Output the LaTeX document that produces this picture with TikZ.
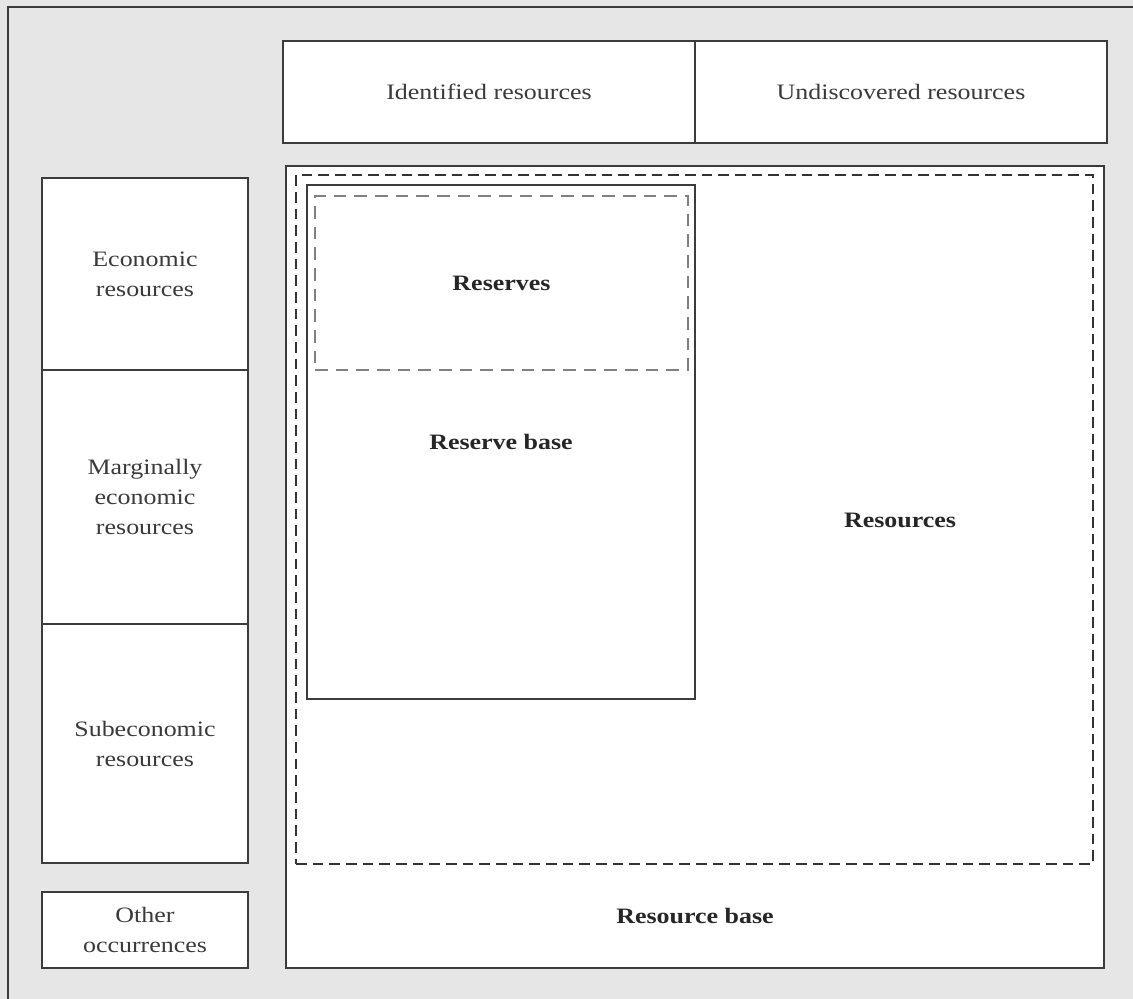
\documentclass[tikz,border=0pt]{standalone}
\usepackage{fontspec}
\setmainfont{Liberation Serif}[FakeStretch=1.18]
\usetikzlibrary{positioning}
\definecolor{panel}{HTML}{E6E6E6}
\definecolor{edge}{HTML}{3C3C3C}
\definecolor{ink}{HTML}{3A3A3A}
\definecolor{dashgrey}{HTML}{808080}
\newcommand{\boxfont}{\fontsize{16.5}{22.5}\selectfont}
\begin{document}
\begin{tikzpicture}[x=0.75pt,y=-0.75pt,
  box/.style={draw=edge,line width=1.5pt,fill=white,rectangle,inner sep=0pt,
    align=center,text=ink,font=\boxfont},
  plainbox/.style={draw=edge,line width=1.5pt,rectangle,inner sep=0pt,
    align=center,text=black!85,font=\boxfont\bfseries},
  outerdash/.style={draw=black!80,line width=1.3pt,dash pattern=on 8pt off 4.5pt,rectangle,inner sep=0pt},
  innerdash/.style={draw=dashgrey,line width=2pt,dash pattern=on 9.5pt off 6pt,rectangle,inner sep=0pt,
    align=center,text=black!85,font=\boxfont\bfseries},
  lbl/.style={inner sep=0pt,text=black!85,font=\boxfont\bfseries}]
  \useasboundingbox (0,0) rectangle (1133,999);
  % background panel with its left and top border
  \fill[panel] (0,0) rectangle (1133,999);
  \draw[edge,line width=1.5pt] (8,999) -- (8,7) -- (1133,7);

  % column headings
  \node[box,minimum width=309pt,minimum height=76.5pt] (ident) at (489,92) {Identified resources};
  \node[box,minimum width=309pt,minimum height=76.5pt] (undisc) at (901,92) {Undiscovered resources};

  % economic classes
  \node[box,minimum width=154.5pt,minimum height=144pt] (econ) at (145,274) {Economic\\resources};
  \node[box,minimum width=154.5pt,minimum height=190.5pt] (marg) at (145,497) {Marginally\\economic\\resources};
  \node[box,minimum width=154.5pt,minimum height=179.25pt] (subec) at (145,743.5) {Subeconomic\\resources};
  \node[box,minimum width=154.5pt,minimum height=57pt] (other) at (145,930) {Other\\occurrences};

  % nested resource categories
  \node[box,minimum width=613.5pt,minimum height=601.5pt] (rbase) at (695,567) {};
  \node[outerdash,minimum width=597.75pt,minimum height=516.75pt] (res) at (694.5,519.5) {};
  \node[plainbox,minimum width=291pt,minimum height=385.5pt] (resbase) at (501,442) {Reserve base};
  \node[innerdash,minimum width=279.75pt,minimum height=130.5pt] (reserves) at (501.5,283) {Reserves};

  \node[lbl] (reslbl) at (900,520) {Resources};
  \node[lbl] (rbaselbl) at (695,916) {Resource base};
\end{tikzpicture}
\end{document}
